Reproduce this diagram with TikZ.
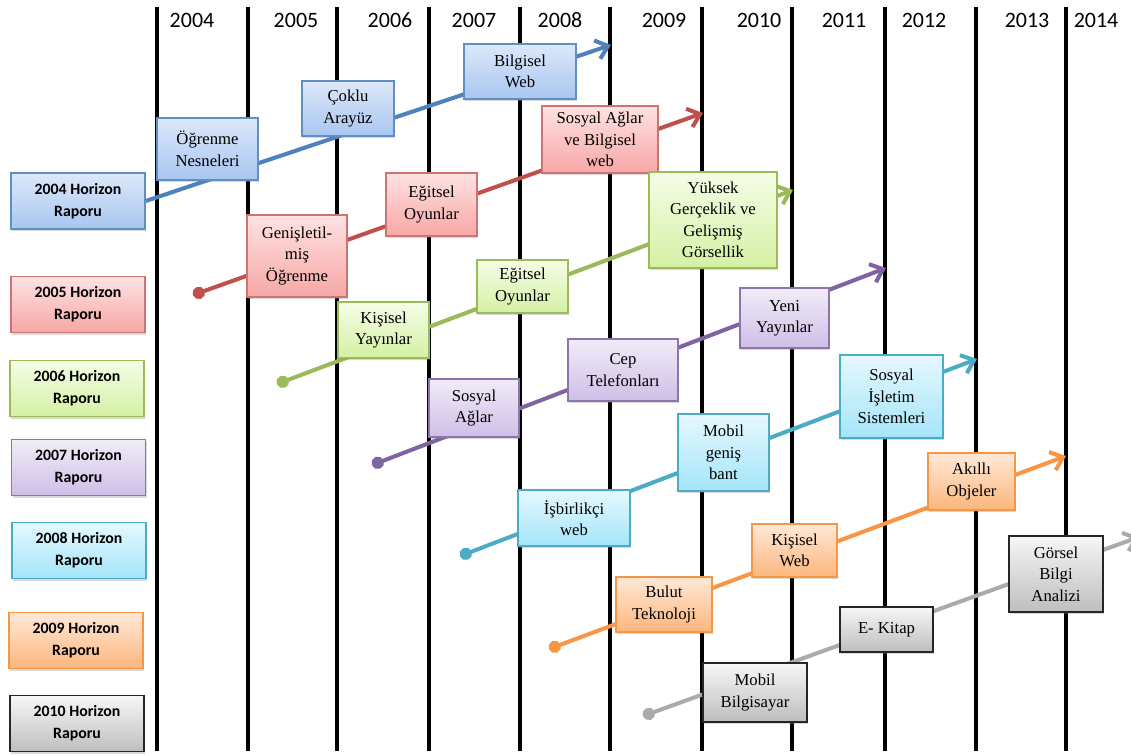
\documentclass[tikz,border=0pt]{standalone}
\usepackage{fontspec}
\setmainfont{Liberation Serif}
\newfontfamily\calfont{Carlito}
\usepackage{tikz}
\usetikzlibrary{arrows.meta,shadows,backgrounds}

\definecolor{hblue}{HTML}{4F81BD}
\definecolor{hblueA}{HTML}{DDE8FA}
\definecolor{hblueB}{HTML}{A8C6F0}
\definecolor{hred}{HTML}{C0504D}
\definecolor{hredA}{HTML}{FFE2E2}
\definecolor{hredB}{HTML}{F6A7A6}
\definecolor{hgreen}{HTML}{9BBB59}
\definecolor{hgreenA}{HTML}{F5FDE6}
\definecolor{hgreenB}{HTML}{D4F1A4}
\definecolor{hpurple}{HTML}{8064A2}
\definecolor{hpurpleA}{HTML}{F1ECF8}
\definecolor{hpurpleB}{HTML}{CFBEE7}
\definecolor{hcyan}{HTML}{4BACC6}
\definecolor{hcyanA}{HTML}{E6F8FE}
\definecolor{hcyanB}{HTML}{A4E5F9}
\definecolor{horange}{HTML}{F79646}
\definecolor{horangeA}{HTML}{FFE9D8}
\definecolor{horangeB}{HTML}{FBB67C}
\definecolor{hgray}{HTML}{ABABAB}
\definecolor{hgrayA}{HTML}{F6F6F6}
\definecolor{hgrayB}{HTML}{BEBEBE}

\tikzset{
	yearline/.style={line width=2.6pt,black},
	yearlbl/.style={anchor=base,font=\calfont\fontsize{12.5}{14}\selectfont},
	box/.style 2 args={draw,line width=0.9pt,align=center,inner sep=1pt,
		minimum width=#1*0.02cm,minimum height=#2*0.02cm,
		drop shadow={shadow xshift=0.8pt,shadow yshift=-1.2pt,opacity=0.3}},
	topic/.style={font=\fontsize{9.5}{12.2}\selectfont},
	report/.style={box={134}{56},font=\calfont\bfseries\fontsize{9}{12.5}\selectfont},
	bluebox/.style={draw=hblue!90,top color=hblueA,bottom color=hblueB},
	redbox/.style={draw=hred!80,top color=hredA,bottom color=hredB},
	greenbox/.style={draw=hgreen,top color=hgreenA,bottom color=hgreenB},
	purplebox/.style={draw=hpurple!90,top color=hpurpleA,bottom color=hpurpleB},
	cyanbox/.style={draw=hcyan,top color=hcyanA,bottom color=hcyanB},
	orangebox/.style={draw=horange,top color=horangeA,bottom color=horangeB},
	graybox/.style={draw=black!85,top color=hgrayA,bottom color=hgrayB},
	trend/.style={line width=2.3pt,{Circle[length=7pt]}-{Straight Barb[length=6.5pt,width=11pt]}},
	trendfirst/.style={line width=2.3pt,-{Straight Barb[length=6.5pt,width=11pt]}},
}

\begin{document}
\begin{tikzpicture}[x=0.02cm,y=-0.02cm]
	\useasboundingbox (0,0) rectangle (1131,756);

	\foreach \x/\yr in {192/2004,296/2005,390/2006,474/2007,560/2008,664/2009,759/2010,844/2011,924/2012,1027/2013,1096/2014}
		\node[yearlbl] (y\yr) at (\x,28) {\yr};

	\node[report,bluebox] (r2004) at (78,201) {2004 Horizon\\Raporu};
	\node[report,redbox] (r2005) at (78,304.5) {2005 Horizon\\Raporu};
	\node[report,greenbox] (r2006) at (77,388.5) {2006 Horizon\\Raporu};
	\node[report,purplebox] (r2007) at (78.5,467.5) {2007 Horizon\\Raporu};
	\node[report,cyanbox] (r2008) at (79,550.5) {2008 Horizon\\Raporu};
	\node[report,orangebox] (r2009) at (76,640.5) {2009 Horizon\\Raporu};
	\node[report,graybox] (r2010) at (77,723.5) {2010 Horizon\\Raporu};

	\node[topic,bluebox,box={101}{62}] (ogrenme) at (207.5,149) {Öğrenme\\Nesneleri};
	\node[topic,bluebox,box={92}{55}] (coklu) at (348,108.5) {Çoklu\\Arayüz};
	\node[topic,bluebox,box={112}{55}] (bilgisel) at (520,71.5) {Bilgisel\\Web};

	\node[topic,redbox,box={100}{82}] (genis) at (297,256) {Genişletil-\\miş\\Öğrenme};
	\node[topic,redbox,box={91}{63}] (egitselA) at (431.5,204.5) {Eğitsel\\Oyunlar};
	\node[topic,redbox,box={116}{67}] (sosyalA) at (600,139.5) {Sosyal Ağlar\\ve Bilgisel\\web};

	\node[topic,greenbox,box={91}{56}] (kisiselA) at (383.5,330) {Kişisel\\Yayınlar};
	\node[topic,greenbox,box={91}{53}] (egitselB) at (522.5,286.5) {Eğitsel\\Oyunlar};
	\node[topic,greenbox,box={128}{96}] (yuksek) at (713,220) {Yüksek\\Gerçeklik ve\\Gelişmiş\\Görsellik};

	\node[topic,purplebox,box={90}{58}] (sosyalB) at (474,408) {Sosyal\\Ağlar};
	\node[topic,purplebox,box={110}{62}] (cep) at (623,370) {Cep\\Telefonları};
	\node[topic,purplebox,box={89}{60}] (yeni) at (784.5,318) {Yeni\\Yayınlar};

	\node[topic,cyanbox,box={112}{56}] (isbirlik) at (574,518) {İşbirlikçi\\web};
	\node[topic,cyanbox,box={91}{77}] (mobilA) at (723.5,452.5) {Mobil\\geniş\\bant};
	\node[topic,cyanbox,box={103}{83}] (isletim) at (891.5,396.5) {Sosyal\\İşletim\\Sistemleri};

	\node[topic,orangebox,box={96}{55}] (bulut) at (664,604.5) {Bulut\\Teknoloji};
	\node[topic,orangebox,box={85}{53}] (kisiselB) at (794.5,550.5) {Kişisel\\Web};
	\node[topic,orangebox,box={87}{57}] (akilli) at (971.5,481.5) {Akıllı\\Objeler};

	\node[topic,graybox,box={104}{59}] (mobilB) at (755,692.5) {Mobil\\Bilgisayar};
	\node[topic,graybox,box={93}{45}] (ekitap) at (886.5,629.5) {E- Kitap};
	\node[topic,graybox,box={94}{76}] (gorsel) at (1056,574) {Görsel\\Bilgi\\Analizi};

	\coordinate (t2004) at (611,45);
	\coordinate (s2005) at (193,295);
	\coordinate (t2005) at (703,113);
	\coordinate (s2006) at (277,384);
	\coordinate (t2006) at (793,190);
	\coordinate (s2007) at (372,465);
	\coordinate (t2007) at (886,268);
	\coordinate (s2008) at (460,556);
	\coordinate (t2008) at (977,359);
	\coordinate (s2009) at (549,649);
	\coordinate (t2009) at (1066,456);
	\coordinate (s2010) at (643,716);
	\coordinate (t2010) at (1139,537);

	\begin{scope}[on background layer]
		\foreach \x in {157,248,337,429,520,610,702,792,885,976,1066}
			\draw[yearline] (\x,7) -- (\x,751);
		\draw[trendfirst,hblue] (r2004.east) -- (t2004);
		\draw[trend,hred] (s2005) -- (t2005);
		\draw[trend,hgreen] (s2006) -- (t2006);
		\draw[trend,hpurple] (s2007) -- (t2007);
		\draw[trend,hcyan] (s2008) -- (t2008);
		\draw[trend,horange] (s2009) -- (t2009);
		\draw[trend,hgray] (s2010) -- (t2010);
	\end{scope}
\end{tikzpicture}
\end{document}
